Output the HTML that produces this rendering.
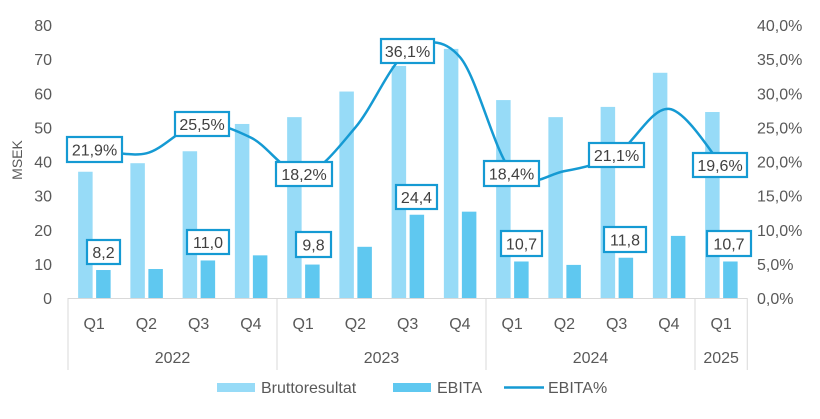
<!DOCTYPE html>
<html><head><meta charset="utf-8"><style>
body{margin:0;background:#fff}
svg{display:block;font-family:"Liberation Sans",sans-serif;fill:#595959}
</style></head><body>
<svg id="s" width="820" height="419" xmlns="http://www.w3.org/2000/svg"></svg>
<script>
const s=document.getElementById('s');
let h='';
const L=68,W=52.25,B=298,ky=3.4125;
// left axis
for(let i=0;i<=8;i++){h+=`<text x="52" y="${B-i*10*ky+6}" font-size="16" text-anchor="end">${i*10}</text>`;}
for(let i=0;i<=8;i++){h+=`<text x="757" y="${B-i*5*6.825+6}" font-size="16">${(i*5).toFixed(1).replace('.',',')}%</text>`;}
h+=`<text transform="translate(22,160) rotate(-90)" font-size="14" text-anchor="middle">MSEK</text>`;
const br=[37,39.5,43,51,53,60.5,68,73,58,53,56,66,54.5];
const eb=[8.2,8.5,11.0,12.5,9.8,15,24.4,25.3,10.7,9.7,11.8,18.2,10.7];
for(let i=0;i<13;i++){const c=L+W*(i+.5);
h+=`<rect x="${c-16}" y="${B-br[i]*ky}" width="14.5" height="${br[i]*ky}" fill="#97dbf7"/>`;
h+=`<rect x="${c+2}" y="${B-eb[i]*ky}" width="14.5" height="${eb[i]*ky}" fill="#5fc8f0"/>`;
h+=`<text x="${c}" y="329" font-size="16" text-anchor="middle">Q${i%4+1}</text>`;}
// axis lines
h+=`<line x1="${L}" y1="${B+0.5}" x2="747" y2="${B+0.5}" stroke="#d9d9d9" stroke-width="1"/>`;
[0,4,8,12,13].forEach(k=>{const x=L+W*k;h+=`<line x1="${x}" y1="${B}" x2="${x}" y2="370" stroke="#d9d9d9"/>`;});
[["2022",2],["2023",6],["2024",10],["2025",12.5]].forEach(([t,k])=>{h+=`<text x="${L+W*k}" y="363" font-size="16" text-anchor="middle">${t}</text>`;});
// line
h+=`<path d="M94.1,148.5 C102.8,149.3 129.0,157.4 146.4,153.3 C163.8,149.2 181.2,126.6 198.6,124.0 C216.0,121.4 233.5,129.3 250.9,137.6 C268.3,145.9 285.7,175.5 303.1,173.8 C320.5,172.1 338.0,147.8 355.4,127.4 C372.8,107.0 390.2,63.3 407.6,51.6 C425.0,39.9 442.5,37.0 459.9,57.1 C477.3,77.2 494.7,153.4 512.1,172.4 C529.5,191.4 547.0,174.2 564.4,171.1 C581.8,168.0 599.2,164.4 616.6,154.0 C634.0,143.6 651.5,107.2 668.9,108.9 C686.3,110.6 712.4,155.0 721.1,164.2" fill="none" stroke="#159ad3" stroke-width="2.5"/>`;
// labels [text,x1,y1,x2,y2]
const lb=[["21,9%",66,136,123,163],["25,5%",174,111,230,137],["18,2%",275,161,333,187],["9,8",295,231,332,258],["8,2",86,239,121,265],["11,0",186,229,230,255],["36,1%",380,38,435,64],["24,4",395,184,438,210],["18,4%",483,160,540,187],["10,7",500,230,543,257],["21,1%",588,142,645,168],["11,8",603,226,647,253],["19,6%",692,152,748,178],["10,7",706,230,752,257]];
lb.forEach(([t,a,b,c,d])=>{h+=`<rect x="${a+1}" y="${b+1}" width="${c-a-2}" height="${d-b-2}" fill="#fff" stroke="#159ad3" stroke-width="2.2"/><text x="${(a+c)/2}" y="${(b+d)/2+6}" font-size="16" text-anchor="middle" fill="#404040">${t}</text>`;});
// legend
h+=`<rect x="217" y="383" width="38" height="9" fill="#97dbf7"/><text x="261" y="393" font-size="16">Bruttoresultat</text>`;
h+=`<rect x="393" y="383" width="38" height="9" fill="#5fc8f0"/><text x="437" y="393" font-size="16">EBITA</text>`;
h+=`<line x1="504" y1="387.5" x2="544" y2="387.5" stroke="#159ad3" stroke-width="2.5"/><text x="548" y="393" font-size="16">EBITA%</text>`;
s.innerHTML=h;
</script>
</body></html>
